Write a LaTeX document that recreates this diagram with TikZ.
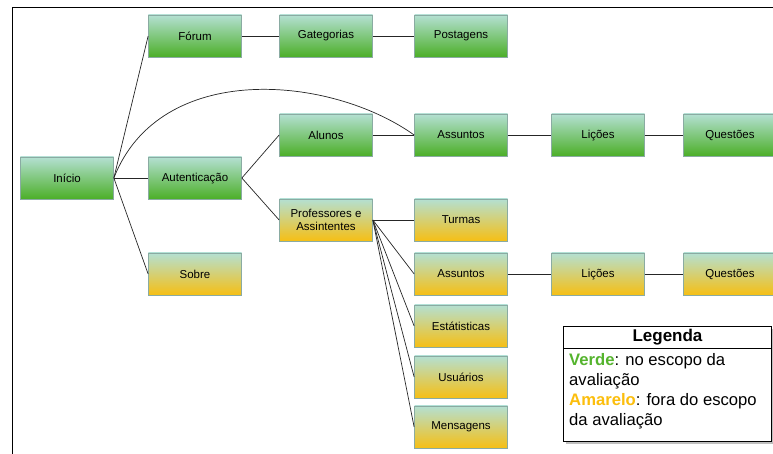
\documentclass[tikz,border=0pt]{standalone}
\usepackage{fontspec}
\setmainfont{Liberation Sans}
\usepackage{xcolor}
\usetikzlibrary{positioning,calc,shapes,arrows}
\definecolor{vtopo}{HTML}{B4E0D2}
\definecolor{vbase}{HTML}{4CAF28}
\definecolor{abase}{HTML}{F6BF14}
\definecolor{borda}{HTML}{8AABA2}
\definecolor{verdetxt}{HTML}{55B42E}
\definecolor{amarelotxt}{HTML}{FCBE0C}
\tikzstyle{cx}=[draw=borda, line width=0.6pt, minimum width=2.79cm, minimum height=1.26cm,
		inner sep=1pt, align=center, font=\fontsize{9.8}{11.4}\selectfont]
\tikzstyle{vd}=[cx, top color=vtopo, bottom color=vbase]
\tikzstyle{am}=[cx, top color=vtopo, bottom color=abase]
\tikzstyle{lig}=[draw=black!85, line width=0.6pt]

\begin{document}
\begin{tikzpicture}[x=0.03cm, y=-0.03cm]
                \useasboundingbox (0,0) rectangle (773,454);
                \draw[line width=0.8pt] (12,454) -- (12,7) -- (773,7);
                \node[vd] (ini) at (67,178) {Início};
                \node[vd] (for) at (195,36) {Fórum};
                \node[vd] (cat) at (326,36) {Gategorias};
                \node[vd] (pos) at (461,36) {Postagens};
                \node[vd] (aut) at (195,178) {Autenticação\vphantom{Ág}};
                \node[am] (sob) at (195,274) {Sobre};
                \node[vd] (alu) at (326,135) {Alunos};
                \node[vd] (as1) at (461,135) {Assuntos};
                \node[vd] (li1) at (598,135) {Lições\vphantom{Ág}};
                \node[vd] (qu1) at (730,135) {Questões};
                \node[am] (pro) at (326,220) {Professores e\\Assintentes};
                \node[am] (tur) at (461,220) {Turmas};
                \node[am] (as2) at (461,274) {Assuntos};
                \node[am] (li2) at (598,274) {Lições\vphantom{Ág}};
                \node[am] (qu2) at (730,274) {Questões};
                \node[am] (est) at (461,326) {Estátisticas};
                \node[am] (usu) at (461,377) {Usuários};
                \node[am] (men) at (461,427) {Mensagens};
                \foreach \a/\b in {ini/for, ini/aut, ini/sob, for/cat, cat/pos, aut/alu, aut/pro,
                    alu/as1, as1/li1, li1/qu1, as2/li2, li2/qu2}
                    \draw[lig] (\a.east) -- (\b.west);
                \foreach \b in {tur, as2, est, usu, men}
                    \draw[lig] (pro.east) -- (\b.west);
                \draw[lig] (ini.east) .. controls (160,60) and (330,75) .. (as1.west);
                \fill[black!25] (566,329) rectangle (775,444);
                \node[draw, fill=white, line width=0.6pt, minimum width=6.24cm, minimum height=0.66cm,
                    inner sep=0pt, font=\fontsize{14.5}{16}\selectfont\bfseries] (leg) at (667.5,337) {Legenda};
                \node[draw, fill=white, line width=0.6pt, below=0pt of leg, minimum width=6.24cm,
                    minimum height=2.79cm, inner sep=0pt, anchor=north] (legtxt) {};
                \node[anchor=north west, inner sep=0pt, align=left,
                    font=\fontsize{14.2}{17}\selectfont] (legcorpo) at (569,353)
                    {\textcolor{verdetxt}{\bfseries Verde}: no escopo da\\ avaliação\\
                     \textcolor{amarelotxt}{\bfseries Amarelo}: fora do escopo\\ da avaliação};
\end{tikzpicture}
\end{document}
